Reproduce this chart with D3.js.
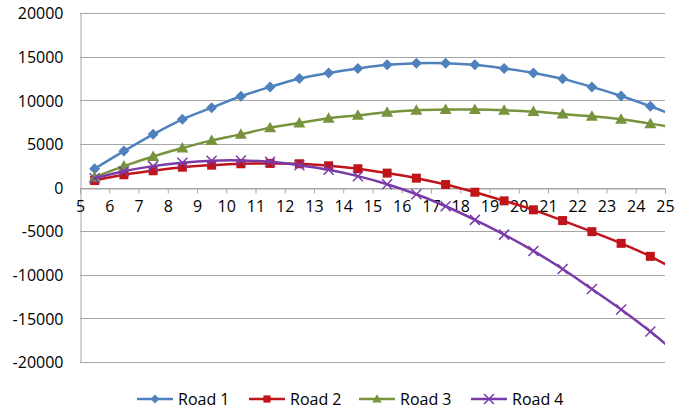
<!DOCTYPE html>
<html>
<head>
<meta charset="utf-8">
<script src="https://cdn.jsdelivr.net/npm/d3@7"></script>
<style>
  body { margin: 0; background: #fff; }
  text { font-family: "Open Sans", "Liberation Sans", sans-serif; fill: #000; }
</style>
</head>
<body>
<div id="chart"></div>
<script>
// x positions of the points (the last one sits past the axis and gets clipped)
var xs = [5.5, 6.5, 7.5, 8.5, 9.5, 10.5, 11.5, 12.5, 13.5, 14.5, 15.5, 16.5, 17.5,
          18.5, 19.5, 20.5, 21.5, 22.5, 23.5, 24.5, 25.5];

var road1 = [2150, 4170, 6090, 7810, 9150, 10460, 11530, 12490, 13130, 13640, 14060,
             14250, 14250, 14060, 13640, 13130, 12450, 11530, 10490, 9310, 8000];
var road2 = [800, 1460, 1920, 2330, 2560, 2720, 2760, 2720, 2490, 2150, 1650,
             1070, 340, -540, -1530, -2560, -3790, -5060, -6400, -7890, -9700];
var road3 = [1180, 2450, 3560, 4520, 5400, 6090, 6860, 7390, 7930, 8270, 8620,
             8850, 8930, 8930, 8850, 8700, 8420, 8160, 7810, 7320, 6750];
var road4 = [1050, 1870, 2450, 2840, 3070, 3100, 2950, 2560, 2030, 1300, 380,
             -770, -2150, -3710, -5400, -7270, -9340, -11640, -13980, -16510, -19300];

var seriesNames = ["Road 1", "Road 2", "Road 3", "Road 4"];
var xTicks = d3.range(5, 26);
var yTicks = [20000, 15000, 10000, 5000, 0, -5000, -10000, -15000, -20000];

var colors = ["#4F81BD", "#C0141B", "#77933C", "#7A3BAA"];
var markers = ["diamond", "square", "triangle", "cross"];

var width = 675, height = 411;
var margin = {top: 13, right: 10, bottom: 49, left: 80};
var plotW = 665 - margin.left, plotH = 362 - margin.top;

// plain hyphen for negatives, like the original
var fmt = function (d) { return String(d); };

var svg = d3.select("#chart").append("svg")
    .attr("width", width)
    .attr("height", height);

var x = d3.scaleLinear().domain([5, 25]).range([margin.left, margin.left + plotW]);
var y = d3.scaleLinear().domain([-20000, 20000]).range([margin.top + plotH, margin.top]);

svg.append("defs").append("clipPath")
    .attr("id", "clip")
  .append("rect")
    .attr("x", margin.left)
    .attr("y", 0)
    .attr("width", plotW)
    .attr("height", height);

// gridlines
svg.append("g")
    .selectAll("line")
    .data(yTicks)
    .enter().append("line")
    .attr("x1", margin.left)
    .attr("x2", margin.left + plotW)
    .attr("y1", function (d) { return Math.round(y(d)) + 0.5; })
    .attr("y2", function (d) { return Math.round(y(d)) + 0.5; })
    .attr("stroke", "#a6a6a6")
    .attr("stroke-width", 1);

// y axis
var yAxis = svg.append("g")
    .attr("transform", "translate(" + (margin.left + 0.5) + ",0)")
    .call(d3.axisLeft(y).tickValues(yTicks).tickSize(0).tickPadding(17).tickFormat(fmt));
yAxis.select(".domain").attr("stroke", "#a6a6a6");
yAxis.selectAll("text").style("font-size", "16px").attr("dy", "0.36em");

// x axis at zero
var xAxis = svg.append("g")
    .attr("transform", "translate(0," + (Math.round(y(0)) + 0.5) + ")")
    .call(d3.axisBottom(x).tickValues(xTicks).tickSize(5).tickPadding(7).tickFormat(fmt));
xAxis.select(".domain").attr("stroke", "#a6a6a6");
xAxis.selectAll(".tick line").attr("stroke", "#a6a6a6");
xAxis.selectAll("text").style("font-size", "16px");

var allSeries = [road1, road2, road3, road4];

var line = d3.line()
    .x(function (d) { return x(d[0]); })
    .y(function (d) { return y(d[1]); })
    .curve(d3.curveCardinal.tension(0));

function drawMarker(g, kind, color, cx, cy) {
    if (kind === "diamond") {
        g.append("path")
            .attr("d", "M0,-5.5L5.5,0L0,5.5L-5.5,0Z")
            .attr("transform", "translate(" + cx + "," + cy + ")")
            .attr("fill", color);
    } else if (kind === "square") {
        g.append("rect")
            .attr("x", cx - 4.5).attr("y", cy - 4.5)
            .attr("width", 9).attr("height", 9)
            .attr("fill", color);
    } else if (kind === "triangle") {
        g.append("path")
            .attr("d", "M0,-6L6,4.5L-6,4.5Z")
            .attr("transform", "translate(" + cx + "," + cy + ")")
            .attr("fill", color);
    } else {
        g.append("path")
            .attr("d", "M-5,-5L5,5M-5,5L5,-5")
            .attr("transform", "translate(" + cx + "," + cy + ")")
            .attr("stroke", color)
            .attr("stroke-width", 1.5)
            .attr("fill", "none");
    }
}

var plot = svg.append("g").attr("clip-path", "url(#clip)");

allSeries.forEach(function (vals, i) {
    var pts = xs.map(function (v, j) { return [v, vals[j]]; });
    plot.append("path")
        .datum(pts)
        .attr("d", line)
        .attr("fill", "none")
        .attr("stroke", colors[i])
        .attr("stroke-width", 2.5);
    var mg = plot.append("g");
    pts.forEach(function (p) {
        drawMarker(mg, markers[i], colors[i], x(p[0]), y(p[1]));
    });
});

// legend
var legendX = [137, 249, 359, 471];
var legendY = 399;
seriesNames.forEach(function (name, i) {
    var lg = svg.append("g");
    lg.append("line")
        .attr("x1", legendX[i]).attr("x2", legendX[i] + 36)
        .attr("y1", legendY).attr("y2", legendY)
        .attr("stroke", colors[i]).attr("stroke-width", 2.5);
    var s = i === 3 ? 1 : 0.8;
    var mg = lg.append("g");
    drawMarker(mg, markers[i], colors[i], legendX[i] + 18, legendY);
    mg.attr("transform", "translate(" + (legendX[i] + 18) * (1 - s) + "," + legendY * (1 - s) + ") scale(" + s + ")");
    lg.append("text")
        .attr("x", legendX[i] + 41)
        .attr("y", legendY)
        .attr("dy", "0.36em")
        .style("font-size", "16px")
        .text(name);
});
</script>
</body>
</html>
